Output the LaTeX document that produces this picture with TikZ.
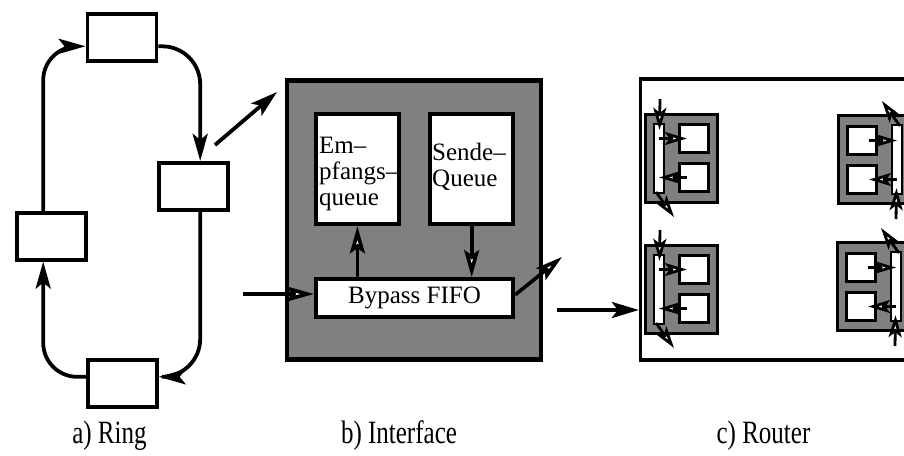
\documentclass[tikz,border=0pt]{standalone}
\usepackage{fontspec}
\setmainfont{Liberation Serif}
\newfontfamily\capfont{Liberation Serif}[FakeStretch=0.77]
\usetikzlibrary{arrows.meta}

\definecolor{panelgray}{gray}{0.5}

\tikzset{
  ringbox/.style={draw, line width=3.8pt, fill=white, minimum width=69pt, minimum height=47pt, inner sep=0pt},
  ringlink/.style={line width=3.8pt, -{Stealth[length=27pt,width=15pt,inset=6pt]}},
  bigarrow/.style={line width=3.8pt, -{Stealth[length=27pt,width=16pt,inset=6pt]}},
  hollowarrow/.style={line width=3.6pt, -{Stealth[length=27pt,width=15pt,inset=5pt,fill=white]}},
  panel/.style={draw, line width=4.3pt, fill=panelgray, inner sep=0pt},
  qbox/.style={draw, line width=3.8pt, fill=white, inner sep=0pt},
  qtext/.style={font=\fontsize{25}{26}\selectfont, align=left, inner sep=0pt, anchor=north west},
  caption/.style={font=\capfont\fontsize{32.5}{34}\selectfont, anchor=base, inner sep=0pt},
  modframe/.style={draw, line width=3pt, fill=panelgray, inner sep=0pt, minimum width=72.5pt, minimum height=88.5pt},
  modbyp/.style={draw, line width=2.5pt, fill=white, inner sep=0pt, minimum width=9.8pt, minimum height=68.8pt},
  modq/.style={draw, line width=3pt, fill=white, inner sep=0pt, minimum width=29.3pt, minimum height=28.3pt},
  modarrow/.style={line width=2.8pt, -{Stealth[length=22pt,width=13pt,inset=5pt,fill=white]}},
  % small interface module inside the router: frame, bypass bar, two queues
  pics/rmod/.style={code={
    \node[modframe] (fr) at (37.5,45.5) {};
    \node[modbyp] (bp) at (15,45.5) {};
    \node[modq] (qa) at (50,25.5) {};
    \node[modq] (qb) at (50,64.5) {};
    \coordinate (src) at (16,-14);
    \coordinate (ex) at (12,79);
    \coordinate (dst) at (30,104);
    \draw[modarrow, shorten >=-7pt] (src) -- (bp);
    \draw[modarrow, shorten >=-9pt] (bp.center |- qa.center) -- (qa);
    \draw[modarrow, shorten <=-9pt] (qb) -- (bp.center |- qb.center);
    \draw[modarrow] (ex) -- (dst);
  }}
}

\begin{document}
\begin{tikzpicture}[x=1pt,y=-1pt]
\useasboundingbox (0,0) rectangle (904,455);
\clip (0,0) rectangle (904,455);

% a) ring of four stations
\node[ringbox] (rt) at (122,37.3) {};
\node[ringbox] (rr) at (193.7,186.3) {};
\node[ringbox] (rl) at (51.2,236.2) {};
\node[ringbox] (rb) at (122.2,383.8) {};
\draw[ringlink, rounded corners=34pt] ([xshift=-8pt]rl.north) |- ([yshift=-9pt]rt.west);
\draw[ringlink, rounded corners=38pt] ([yshift=-9pt]rt.east) -| ([xshift=6.5pt]rr.north);
\draw[ringlink, rounded corners=38pt] ([xshift=6.5pt]rr.south) |- ([yshift=7pt]rb.east);
\draw[ringlink, rounded corners=34pt] ([yshift=7pt]rb.west) -| ([xshift=-8pt]rl.south);

\coordinate (zA) at (215,145);
\coordinate (zB) at (277,92);
\draw[bigarrow] (zA) -- (zB);

% b) interface
\node[panel, minimum width=254pt, minimum height=279pt] (iface) at (414.25,220) {};
\node[qbox, minimum width=83.3pt, minimum height=110.3pt] (empf) at (357.4,169.2) {};
\node[qbox, minimum width=83.3pt, minimum height=110.3pt] (sende) at (471.7,169.2) {};
\node[qbox, minimum width=197.6pt, minimum height=37.6pt, font=\fontsize{25}{26}\selectfont] (fifo) at (414.5,297.8) {Bypass FIFO};
\node[qtext] (empftxt) at (319,136.7) {Em–\\pfangs–\\queue};
\node[qtext] (sendetxt) at (432,142.7) {Sende–\\Queue};

\coordinate (ifin) at (243,294);
\draw[hollowarrow] (ifin) -- (ifin -| fifo.west);
\draw[hollowarrow] (fifo.north -| empf.south) -- (empf.south);
\draw[hollowarrow] (sende.south) -- (sende.south |- fifo.north);
\coordinate (ifout) at (562,257);
\draw[hollowarrow] ([yshift=3pt]fifo.east) -- (ifout);

% c) router
\node[draw, line width=3.6pt, fill=white, minimum width=289.3pt, minimum height=280.5pt, inner sep=0pt] (router) at (785.3,219.5) {};
\coordinate (toR) at (557,310);
\draw[bigarrow] (toR) -- (toR -| router.west);

\pic (ma) at (644,113) {rmod};
\pic (mb) at (644,244) {rmod};
\pic[rotate=180] (mc) at (912,205) {rmod};
\pic[rotate=180] (md) at (911,332) {rmod};

% captions
\node[caption] (capa) at (109.5,443) {a) Ring};
\node[caption] (capb) at (399,443) {b) Interface};
\node[caption] (capc) at (763.5,443) {c) Router};
\end{tikzpicture}
\end{document}
